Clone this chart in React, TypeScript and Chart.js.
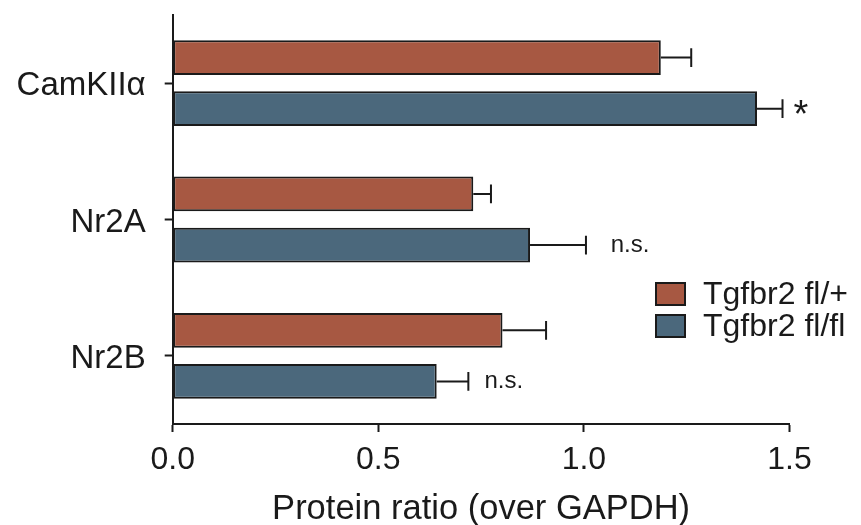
import React, { useEffect, useRef } from 'react';
import { Chart, registerables } from 'chart.js';

Chart.register(...registerables);

const categories = ['CamKIIα', 'Nr2A', 'Nr2B'];
const seriesLabels = ['Tgfbr2 fl/+', 'Tgfbr2 fl/fl'];
const hetValues = [1.187, 0.731, 0.802];
const hetErrors = [0.074, 0.043, 0.106];
const homValues = [1.421, 0.869, 0.642];
const homErrors = [0.062, 0.136, 0.077];
const seriesColors = ['#A75842', '#4B687C'];
const xTickValues = [0, 0.5, 1.0, 1.5];
const xTitle = 'Protein ratio (over GAPDH)';
const annotationTexts = ['*', 'n.s.', 'n.s.'];
const annotationAnchors = [1.51, 1.065, 0.758];

const FONT = "'Liberation Sans', Arial, sans-serif";
const INK = '#1a1a1a';

const errorBarPlugin = {
  id: 'errorBars',
  afterDatasetsDraw(chart: any) {
    const ctx = chart.ctx;
    const xs = chart.scales.x;
    ctx.save();
    ctx.strokeStyle = INK;
    ctx.lineWidth = 2;
    chart.data.datasets.forEach((ds: any, di: number) => {
      const meta = chart.getDatasetMeta(di);
      meta.data.forEach((bar: any, i: number) => {
        const v = ds.data[i];
        const e = ds.errors[i];
        const x0 = xs.getPixelForValue(v);
        const x1 = xs.getPixelForValue(v + e);
        const y = bar.y;
        const half = bar.height * 0.27;
        ctx.beginPath();
        ctx.moveTo(x0, y);
        ctx.lineTo(x1, y);
        ctx.moveTo(x1, y - half);
        ctx.lineTo(x1, y + half);
        ctx.stroke();
      });
    });
    // significance annotations on the fl/fl bars
    const meta = chart.getDatasetMeta(1);
    ctx.fillStyle = INK;
    ctx.textAlign = 'left';
    ctx.textBaseline = 'middle';
    annotationTexts.forEach((t, i) => {
      const bar: any = meta.data[i];
      const x = xs.getPixelForValue(annotationAnchors[i]);
      if (t === '*') {
        ctx.font = `38px ${FONT}`;
        ctx.fillText(t, x, bar.y + 8);
      } else {
        ctx.font = `24px ${FONT}`;
        ctx.fillText(t, x, bar.y);
      }
    });
    ctx.restore();
  },
};

const legendPlugin = {
  id: 'boxLegend',
  afterDraw(chart: any) {
    const ctx = chart.ctx;
    ctx.save();
    const left = 656;
    const tops = [283, 315];
    chart.data.datasets.forEach((ds: any, i: number) => {
      const top = tops[i];
      ctx.fillStyle = ds.backgroundColor;
      ctx.fillRect(left, top, 29, 22);
      ctx.strokeStyle = INK;
      ctx.lineWidth = 2;
      ctx.strokeRect(left, top, 29, 22);
      ctx.fillStyle = INK;
      ctx.font = `32px ${FONT}`;
      ctx.textAlign = 'left';
      ctx.textBaseline = 'middle';
      ctx.fillText(ds.label, 703, top + 12);
    });
    ctx.restore();
  },
};

export default function App() {
  const ref = useRef<HTMLCanvasElement | null>(null);
  useEffect(() => {
    if (!ref.current) return;
    const chart = new Chart(ref.current, {
      type: 'bar',
      data: {
        labels: categories,
        datasets: [
          {
            label: seriesLabels[0],
            data: hetValues,
            errors: hetErrors,
            backgroundColor: seriesColors[0],
            borderColor: INK,
            borderWidth: 2,
            borderSkipped: false,
          } as any,
          {
            label: seriesLabels[1],
            data: homValues,
            errors: homErrors,
            backgroundColor: seriesColors[1],
            borderColor: INK,
            borderWidth: 2,
            borderSkipped: false,
          } as any,
        ],
      },
      options: {
        indexAxis: 'y',
        responsive: false,
        animation: false,
        categoryPercentage: 0.75,
        barPercentage: 0.68,
        layout: { padding: { top: 15, right: 71.5, bottom: 0, left: 0 } },
        plugins: {
          legend: { display: false },
          tooltip: { enabled: false },
        },
        scales: {
          x: {
            type: 'linear',
            min: 0,
            max: 1.5,
            afterBuildTicks: (scale: any) => {
              scale.ticks = xTickValues.map((v) => ({ value: v }));
            },
            afterFit: (scale: any) => {
              scale.height = 101;
              scale.paddingLeft = 0;
              scale.paddingRight = 0;
            },
            ticks: {
              color: INK,
              font: { family: FONT, size: 32 },
              padding: 9,
              callback: (v: any) => Number(v).toFixed(1),
            },
            grid: {
              drawOnChartArea: false,
              drawTicks: true,
              tickLength: 8,
              tickColor: INK,
              tickWidth: 2,
            },
            border: { display: true, color: INK, width: 2 },
            title: {
              display: true,
              text: xTitle,
              color: INK,
              font: { family: FONT, size: 34.5 },
              padding: { top: 0, bottom: -5 },
            },
          },
          y: {
            type: 'category',
            afterFit: (scale: any) => {
              scale.width = 172.7;
              scale.paddingTop = 0;
              scale.paddingBottom = 0;
            },
            ticks: {
              color: INK,
              font: { family: FONT, size: 33 },
              padding: 19,
              labelOffset: 3,
            },
            grid: {
              offset: false,
              drawOnChartArea: false,
              drawTicks: true,
              tickLength: 8,
              tickColor: INK,
              tickWidth: 2,
            },
            border: { display: true, color: INK, width: 2 },
          },
        },
      } as any,
      plugins: [errorBarPlugin, legendPlugin],
    });
    return () => chart.destroy();
  }, []);
  return (
    <canvas
      ref={ref}
      width={861}
      height={525}
      style={{ position: 'absolute', left: 0, top: 0, display: 'block' }}
    />
  );
}
